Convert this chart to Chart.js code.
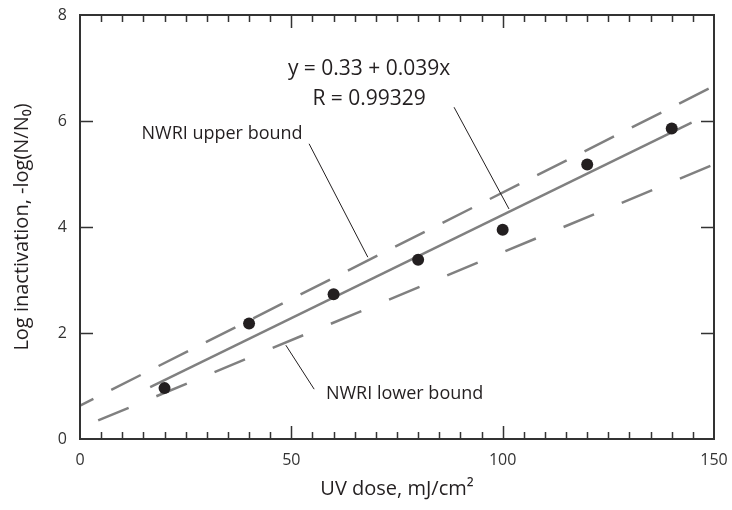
<!DOCTYPE html>
<html><head><meta charset="utf-8">
<script src="https://cdn.jsdelivr.net/npm/chart.js@4.4.1/dist/chart.umd.min.js"></script>
<style>html,body{margin:0;padding:0;background:#fff}</style>
</head><body>
<canvas id="c" width="732" height="510"></canvas>
<script>
// ---- data ----
const doseValues      = [20, 40, 60, 80, 100, 120, 140];
const logInactivation = [0.96, 2.18, 2.73, 3.38, 3.95, 5.18, 5.86];
const fitLineX   = [16.6, 144.7];
const fitLineY   = [0.98, 5.97];
const upperBoundX = [0, 150];
const upperBoundY = [0.63, 6.66];
const lowerBoundX = [4.3, 150];
const lowerBoundY = [0.35, 5.18];
const xTickLabels = [0, 50, 100, 150];
const yTickLabels = [0, 2, 4, 6, 8];
const xAxisTitle = 'UV dose, mJ/cm\u00B2';
const yAxisTitle = 'Log inactivation, -log(N/N\u2080)';
const equationText = 'y = 0.33 + 0.039x';
const rText = 'R = 0.99329';
const upperLabel = 'NWRI upper bound';
const lowerLabel = 'NWRI lower bound';

const FONT = "'Open Sans', 'Noto Sans', 'DejaVu Sans', sans-serif";
const INK = '#231f20';
const LINE = '#808080';

const toPts = (xs, ys) => xs.map((x, i) => ({x: x, y: ys[i]}));

// annotation anchors in data units
const annotations = {
  texts: [
    {text: equationText, x: 68.4, y: 6.98, size: 21},
    {text: rText,        x: 68.4, y: 6.41, size: 21},
    {text: upperLabel,   x: 33.6, y: 5.75, size: 18},
    {text: lowerLabel,   x: 76.8, y: 0.86, size: 18}
  ],
  leaders: [
    [54.2, 5.57, 68.1, 3.43],
    [88.5, 6.26, 101.5, 4.34],
    [48.7, 1.77, 55.4, 0.94]
  ]
};

const framePlugin = {
  id: 'frame',
  afterDraw(chart) {
    const {ctx, chartArea: a, scales: {x, y}} = chart;
    ctx.save();
    ctx.strokeStyle = '#333';
    ctx.lineWidth = 2;
    ctx.strokeRect(a.left, a.top, a.right - a.left, a.bottom - a.top);
    ctx.lineWidth = 1.5;
    ctx.beginPath();
    x.ticks.forEach(t => {
      if (t.value <= x.min || t.value >= x.max) return;
      const px = Math.round(x.getPixelForValue(t.value)) + 0.5;
      const len = (t.value % 50 === 0) ? 13 : 7;
      ctx.moveTo(px, a.bottom); ctx.lineTo(px, a.bottom - len);
      ctx.moveTo(px, a.top); ctx.lineTo(px, a.top + len);
    });
    y.ticks.forEach(t => {
      if (t.value <= y.min || t.value >= y.max) return;
      const py = Math.round(y.getPixelForValue(t.value)) + 0.5;
      ctx.moveTo(a.left, py); ctx.lineTo(a.left + 13, py);
      ctx.moveTo(a.right, py); ctx.lineTo(a.right - 13, py);
    });
    ctx.stroke();
    // leaders
    ctx.strokeStyle = INK;
    ctx.lineWidth = 1;
    ctx.beginPath();
    annotations.leaders.forEach(l => {
      ctx.moveTo(x.getPixelForValue(l[0]), y.getPixelForValue(l[1]));
      ctx.lineTo(x.getPixelForValue(l[2]), y.getPixelForValue(l[3]));
    });
    ctx.stroke();
    // texts
    ctx.fillStyle = INK;
    ctx.textAlign = 'center';
    ctx.textBaseline = 'middle';
    annotations.texts.forEach(t => {
      ctx.font = t.size + 'px ' + FONT;
      ctx.fillText(t.text, x.getPixelForValue(t.x), y.getPixelForValue(t.y));
    });
    ctx.restore();
  }
};

const zeroPad = s => { s.paddingLeft = 0; s.paddingRight = 0; s.paddingTop = 0; s.paddingBottom = 0; };

new Chart(document.getElementById('c'), {
  type: 'scatter',
  data: {
    datasets: [
      {
        label: 'Measured',
        data: toPts(doseValues, logInactivation),
        pointRadius: 6,
        pointHoverRadius: 6,
        pointBackgroundColor: INK,
        pointBorderWidth: 0,
        showLine: false
      },
      {
        label: 'Linear fit',
        data: toPts(fitLineX, fitLineY),
        showLine: true,
        borderColor: LINE,
        borderWidth: 2.5,
        pointRadius: 0
      },
      {
        label: 'NWRI upper bound',
        data: toPts(upperBoundX, upperBoundY),
        showLine: true,
        borderColor: LINE,
        borderWidth: 2.5,
        borderDash: [33, 20],
        borderDashOffset: 18,
        pointRadius: 0
      },
      {
        label: 'NWRI lower bound',
        data: toPts(lowerBoundX, lowerBoundY),
        showLine: true,
        borderColor: LINE,
        borderWidth: 2.5,
        borderDash: [33, 30],
        borderDashOffset: 0,
        pointRadius: 0
      }
    ]
  },
  options: {
    responsive: false,
    animation: false,
    devicePixelRatio: 1,
    layout: {padding: {left: 0, right: 18, top: 15, bottom: 0}},
    plugins: {legend: {display: false}, tooltip: {enabled: false}},
    scales: {
      x: {
        type: 'linear', min: 0, max: 150,
        grid: {display: false, drawTicks: false},
        border: {display: false},
        ticks: {
          stepSize: 5, autoSkip: false, maxRotation: 0, padding: 12,
          color: '#333', font: {family: FONT, size: 16},
          callback: v => xTickLabels.includes(v) ? String(v) : ''
        },
        title: {display: true, text: xAxisTitle, color: INK,
                font: {family: FONT, size: 20}, padding: {top: 0, bottom: 9}},
        afterFit: s => { s.height = 71; zeroPad(s); }
      },
      y: {
        type: 'linear', min: 0, max: 8,
        grid: {display: false, drawTicks: false},
        border: {display: false},
        ticks: {
          stepSize: 2, padding: 13,
          color: '#333', font: {family: FONT, size: 16},
          callback: v => yTickLabels.includes(v) ? String(v) : ''
        },
        title: {display: true, text: yAxisTitle, color: INK,
                font: {family: FONT, size: 20}, padding: {top: 10, bottom: 0}},
        afterFit: s => { s.width = 80; zeroPad(s); }
      }
    }
  },
  plugins: [framePlugin]
});
</script>
</body></html>
